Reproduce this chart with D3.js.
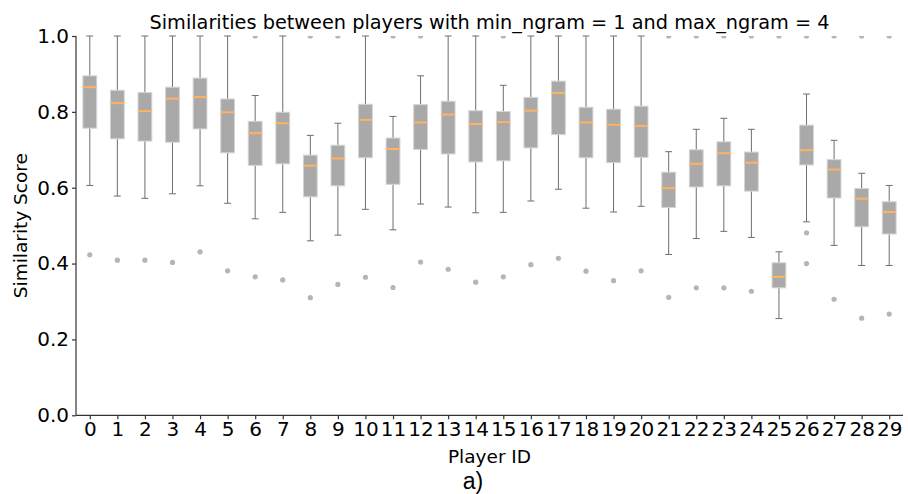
<!DOCTYPE html>
<html>
<head>
<meta charset="utf-8">
<script src="https://cdn.jsdelivr.net/npm/d3@7"></script>
<style>
  body { margin: 0; background: #fff; }
  text { font-family: "DejaVu Sans", sans-serif; fill: #000; }
</style>
</head>
<body>
<svg id="chart" width="908" height="494"></svg>
<script>
// boxplot stats, one entry per player
const players = d3.range(30)
const whiskerHigh = [1.0, 1.0, 1.0, 1.0, 1.0, 1.0, 0.843, 1.0, 0.738, 0.770,
  1.0, 0.788, 0.895, 1.0, 1.0, 0.870, 1.0, 1.0, 1.0, 1.0,
  1.0, 0.695, 0.754, 0.783, 0.754, 0.431, 0.847, 0.725, 0.638, 0.606]
const q3 = [0.895, 0.857, 0.851, 0.865, 0.889, 0.834, 0.775, 0.799, 0.686, 0.712,
  0.820, 0.731, 0.819, 0.828, 0.803, 0.801, 0.838, 0.881, 0.812, 0.807,
  0.815, 0.641, 0.700, 0.721, 0.694, 0.402, 0.765, 0.674, 0.598, 0.563]
const medians = [0.865, 0.823, 0.802, 0.835, 0.839, 0.799, 0.744, 0.770, 0.658, 0.677,
  0.779, 0.702, 0.772, 0.793, 0.768, 0.773, 0.803, 0.850, 0.772, 0.766,
  0.763, 0.599, 0.663, 0.691, 0.666, 0.365, 0.699, 0.648, 0.571, 0.536]
const q1 = [0.757, 0.729, 0.723, 0.720, 0.755, 0.692, 0.659, 0.663, 0.576, 0.605,
  0.679, 0.609, 0.701, 0.689, 0.668, 0.671, 0.705, 0.740, 0.679, 0.666,
  0.680, 0.548, 0.602, 0.605, 0.591, 0.336, 0.660, 0.573, 0.497, 0.478]
const whiskerLow = [0.606, 0.578, 0.572, 0.584, 0.605, 0.559, 0.518, 0.535, 0.460, 0.475,
  0.543, 0.489, 0.557, 0.549, 0.534, 0.535, 0.565, 0.596, 0.546, 0.536,
  0.551, 0.424, 0.466, 0.485, 0.469, 0.255, 0.510, 0.448, 0.395, 0.395]
const fliers = [[0.423], [0.409], [0.409], [0.403], [0.431], [0.381], [0.365, 1.0], [0.357], [0.310, 1.0], [0.345, 1.0],
  [0.364], [0.337, 1.0], [0.404, 1.0], [0.385], [0.351], [0.365, 1.0], [0.397], [0.414], [0.380], [0.355],
  [0.381], [0.311, 1.0], [0.336, 1.0], [0.336, 1.0], [0.327, 1.0], [1.0], [0.481, 0.400, 1.0], [0.306, 1.0], [0.256, 1.0], [0.267, 1.0]]
const yTicks = [0.0, 0.2, 0.4, 0.6, 0.8, 1.0]

const svg = d3.select('#chart')
const plotLeft = 76, plotRight = 903, plotTop = 36, plotBottom = 415.3

const x = d3.scaleLinear().domain([-0.5, 29.5]).range([plotLeft, plotRight])
const y = d3.scaleLinear().domain([0, 1]).range([plotBottom, plotTop])
const unit = x(1) - x(0)
const boxW = unit * 0.5
const capW = unit * 0.25

svg.append('defs').append('clipPath').attr('id', 'plot-clip')
  .append('rect')
    .attr('x', plotLeft).attr('y', plotTop)
    .attr('width', plotRight - plotLeft).attr('height', plotBottom - plotTop)

const boxes = svg.append('g').selectAll('g')
  .data(players)
  .enter()
  .append('g')

// whiskers
boxes.append('line')
  .attr('x1', i => x(i)).attr('x2', i => x(i))
  .attr('y1', i => y(q3[i])).attr('y2', i => y(whiskerHigh[i]))
  .attr('stroke', '#6e6e6e')
boxes.append('line')
  .attr('x1', i => x(i)).attr('x2', i => x(i))
  .attr('y1', i => y(q1[i])).attr('y2', i => y(whiskerLow[i]))
  .attr('stroke', '#6e6e6e')
// caps
boxes.append('line')
  .attr('x1', i => x(i) - capW / 2).attr('x2', i => x(i) + capW / 2)
  .attr('y1', i => y(whiskerHigh[i])).attr('y2', i => y(whiskerHigh[i]))
  .attr('stroke', '#6e6e6e')
boxes.append('line')
  .attr('x1', i => x(i) - capW / 2).attr('x2', i => x(i) + capW / 2)
  .attr('y1', i => y(whiskerLow[i])).attr('y2', i => y(whiskerLow[i]))
  .attr('stroke', '#6e6e6e')

// boxes
boxes.append('rect')
  .attr('x', i => x(i) - boxW / 2)
  .attr('y', i => y(q3[i]))
  .attr('width', boxW)
  .attr('height', i => y(q1[i]) - y(q3[i]))
  .attr('fill', '#a9a9a9')
  .attr('stroke', '#d4d4d4')
  .attr('stroke-width', 1)

// medians
boxes.append('line')
  .attr('x1', i => x(i) - boxW / 2).attr('x2', i => x(i) + boxW / 2)
  .attr('y1', i => y(medians[i])).attr('y2', i => y(medians[i]))
  .attr('stroke', '#ffb264')
  .attr('stroke-width', 2)

// outliers
svg.append('g')
  .attr('clip-path', 'url(#plot-clip)')
  .selectAll('circle')
  .data(players.flatMap(i => fliers[i].map(v => [i, v])))
  .enter()
  .append('circle')
    .attr('cx', d => x(d[0]))
    .attr('cy', d => y(d[1]))
    .attr('r', 2.6)
    .attr('fill', '#b5b5b5')

// axes
const yAxis = svg.append('g')
  .attr('transform', `translate(${plotLeft},0)`)
  .call(d3.axisLeft(y).tickValues(yTicks).tickFormat(d3.format('.1f')).tickSize(4).tickPadding(3))
const xAxis = svg.append('g')
  .attr('transform', `translate(0,${plotBottom})`)
  .call(d3.axisBottom(x).tickValues(players).tickFormat(d => d).tickSize(4).tickPadding(3))

yAxis.select('.domain').attr('d', `M0,${plotTop}V${plotBottom}`)
xAxis.select('.domain').attr('d', `M${plotLeft},0H${plotRight}`)
svg.selectAll('.domain, .tick line').attr('stroke', '#333').attr('stroke-width', 1.2)
svg.selectAll('.tick text')
  .style('font-family', '"DejaVu Sans", sans-serif')
  .style('font-size', '20px')
  .attr('fill', '#000')

// labels
svg.append('text')
  .attr('x', (plotLeft + plotRight) / 2).attr('y', 29)
  .attr('text-anchor', 'middle')
  .style('font-size', '19.3px')
  .text('Similarities between players with min_ngram = 1 and max_ngram = 4')

svg.append('text')
  .attr('transform', `translate(27,${(plotTop + plotBottom) / 2}) rotate(-90)`)
  .attr('text-anchor', 'middle')
  .style('font-size', '18.5px')
  .text('Similarity Score')

svg.append('text')
  .attr('x', (plotLeft + plotRight) / 2).attr('y', 462.5)
  .attr('text-anchor', 'middle')
  .style('font-size', '18.5px')
  .text('Player ID')

svg.append('text')
  .attr('x', 473).attr('y', 488.5)
  .attr('text-anchor', 'middle')
  .style('font-family', '"Liberation Sans", Arial, sans-serif')
  .style('font-size', '23px')
  .text('a)')
</script>
</body>
</html>
